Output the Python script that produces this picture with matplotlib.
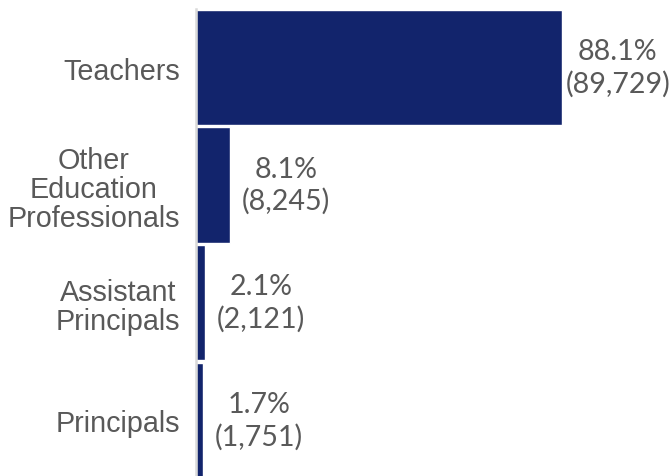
import matplotlib
matplotlib.use("Agg")
import matplotlib.pyplot as plt

# dados do gráfico
categorias = ["Teachers", "Other\nEducation\nProfessionals", "Assistant\nPrincipals", "Principals"]
percentuais = [88.1, 8.1, 2.1, 1.7]
contagens = [89729, 8245, 2121, 1751]

cor_barra = "#12246C"
cor_texto = "#595959"

fig = plt.figure(figsize=(6.7, 4.77), dpi=100)
ax = fig.add_axes([0.2925, -0.006, 0.7075, 0.9855])

posicoes = list(range(len(categorias)))
ax.barh(posicoes, percentuais, height=0.98, color=cor_barra,
        edgecolor="white", linewidth=1)

ax.set_xlim(0, 114.2)
ax.set_ylim(3.5, -0.5)

# rótulos de dados (percentual + contagem)
for pos, pct, n in zip(posicoes, percentuais, contagens):
    ax.annotate(f"{pct:.1f}%\n({n:,})", xy=(pct, pos), xytext=(40.5, 0),
                textcoords="offset points", ha="center", va="center",
                fontsize=20.6, color=cor_texto, family="Lato", linespacing=1.25)

ax.set_yticks(posicoes)
ax.set_yticklabels(categorias, fontsize=20.7, color=cor_texto,
                   family="Liberation Sans", multialignment="center",
                   linespacing=1.05)
ax.tick_params(axis="y", length=0, pad=11.5)
ax.set_xticks([])

for lado in ["top", "right", "bottom"]:
    ax.spines[lado].set_visible(False)
ax.spines["left"].set_color("#D9D9D9")
ax.spines["left"].set_linewidth(1.8)

fig.savefig("out.png", dpi=100)
plt.close(fig)
